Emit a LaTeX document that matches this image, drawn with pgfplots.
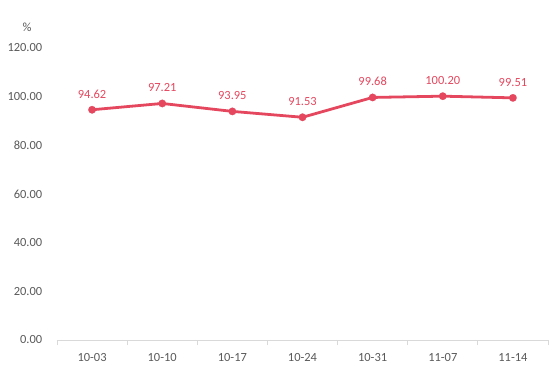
\documentclass[border=0pt]{standalone}
\usepackage{pgfplots}
\pgfplotsset{compat=1.18}
\usepackage{fontspec}
\setmainfont{Carlito}
\definecolor{linered}{RGB}{228,71,94}
\definecolor{ticktext}{RGB}{89,89,89}
\definecolor{axisgray}{RGB}{217,217,217}
\begin{document}
\begin{tikzpicture}
\path[use as bounding box] (-57bp,-30bp) rectangle (497bp,340bp);
\begin{axis}[
  scale only axis,
  width=491bp, height=292bp,
  at={(0,0)}, anchor=south west,
  xmin=-0.5, xmax=6.5,
  ymin=0, ymax=120,
  axis x line*=bottom, axis y line*=left,
  x axis line style={-,draw=axisgray,line width=1pt},
  y axis line style={draw=none},
  xtick={0,...,6},
  xticklabels={10-03,10-10,10-17,10-24,10-31,11-07,11-14},
  minor xtick={-0.5,0.5,...,6.5},
  major x tick style={draw=none},
  minor x tick style={draw=axisgray,line width=1pt},
  minor tick length=5bp,
  tick align=outside,
  ytick={0,20,...,120},
  major y tick style={draw=none},
  /pgf/number format/assume math mode=true,
  ticklabel style={font=\fontsize{12.5}{14}\selectfont, text=ticktext},
  xticklabel style={yshift=-5.5bp},
  yticklabel style={xshift=-7bp, /pgf/number format/fixed, /pgf/number format/fixed zerofill, /pgf/number format/precision=2},
  clip=false,
]
\addplot[color=linered, line width=2.8pt, mark=none]
coordinates {
  (0,94.62) (1,97.21) (2,93.95) (3,91.53) (4,99.68) (5,100.20) (6,99.51)
};
\addplot[only marks, color=linered, mark=*, mark size=3.8pt,
  mark options={solid, fill=linered, draw=linered, line width=0.1pt},
  nodes near coords,
  every node near coord/.append style={font=\fontsize{12.5}{14}\selectfont, text=linered, anchor=south, yshift=8bp,
    /pgf/number format/fixed, /pgf/number format/fixed zerofill, /pgf/number format/precision=2},
] coordinates {
  (0,94.62) (1,97.21) (2,93.95) (3,91.53) (4,99.68) (5,100.20) (6,99.51)
};
\end{axis}
\node[font=\fontsize{12.5}{14}\selectfont, text=ticktext] at (-30bp,313bp) {\%};
\end{tikzpicture}
\end{document}
